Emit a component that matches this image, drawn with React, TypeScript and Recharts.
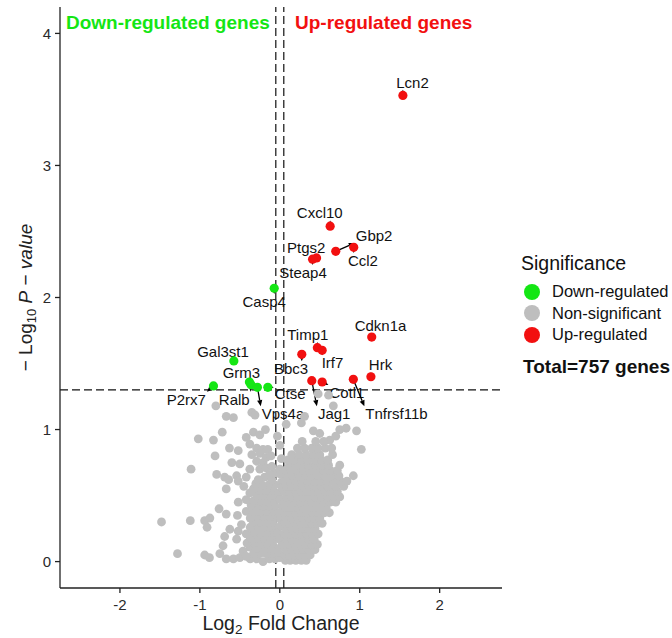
import React from 'react';
import { ScatterChart, Scatter, XAxis, YAxis, ReferenceLine, ReferenceDot, Legend } from 'recharts';

const FONT = '"Liberation Sans", Arial, Helvetica, sans-serif';
const GREEN = '#14e614';
const RED = '#f21010';
const GREY = '#bebebe';

const xTicks = [-2, -1, 0, 1, 2];
const yTicks = [0, 1, 2, 3, 4];
const fcCutoff = 0.05;
const pCutoff = 1.3;
const totalGenes = 757;
const legendOrder = ['Down-regulated', 'Non-significant', 'Up-regulated'];

// log2 fold change / -log10 p for labelled genes
const upGenes = [
  { gene: 'Lcn2', fc: 1.54, p: 3.53 },
  { gene: 'Cxcl10', fc: 0.63, p: 2.54 },
  { gene: 'Gbp2', fc: 0.7, p: 2.35 },
  { gene: 'Ccl2', fc: 0.925, p: 2.38 },
  { gene: 'Ptgs2', fc: 0.46, p: 2.3 },
  { gene: 'Steap4', fc: 0.41, p: 2.29 },
  { gene: 'Cdkn1a', fc: 1.15, p: 1.7 },
  { gene: 'Timp1', fc: 0.47, p: 1.62 },
  { gene: 'Irf7', fc: 0.53, p: 1.6 },
  { gene: 'Bbc3', fc: 0.275, p: 1.57 },
  { gene: 'Hrk', fc: 1.14, p: 1.4 },
  { gene: 'Jag1', fc: 0.4, p: 1.37 },
  { gene: 'Cotl1', fc: 0.53, p: 1.36 },
  { gene: 'Tnfrsf11b', fc: 0.92, p: 1.38 },
];

const downGenes = [
  { gene: 'Casp4', fc: -0.07, p: 2.07 },
  { gene: 'Gal3st1', fc: -0.575, p: 1.52 },
  { gene: 'Grm3', fc: -0.38, p: 1.36 },
  { gene: 'Ralb', fc: -0.36, p: 1.34 },
  { gene: 'P2rx7', fc: -0.83, p: 1.33 },
  { gene: 'Vps4a', fc: -0.28, p: 1.32 },
  { gene: 'Ctse', fc: -0.15, p: 1.32 },
];

// where the repelled labels sit (data units)
const labelSpots: Record<string, [number, number]> = {
  Lcn2: [1.66, 3.63], Cxcl10: [0.5, 2.64], Gbp2: [1.18, 2.47], Ccl2: [1.04, 2.28],
  Ptgs2: [0.33, 2.38], Steap4: [0.29, 2.19], Cdkn1a: [1.26, 1.79], Timp1: [0.35, 1.72],
  Irf7: [0.66, 1.505], Bbc3: [0.14, 1.46], Hrk: [1.26, 1.49], Jag1: [0.68, 1.12],
  Cotl1: [0.84, 1.28], Tnfrsf11b: [1.46, 1.12], Casp4: [-0.195, 1.97], Gal3st1: [-0.71, 1.59],
  Grm3: [-0.48, 1.43], Ralb: [-0.57, 1.23], P2rx7: [-1.17, 1.23], Vps4a: [0.04, 1.12], Ctse: [0.13, 1.27],
};

const headlines = [
  { text: 'Down-regulated genes', x: -1.4, y: 4.08, color: GREEN },
  { text: 'Up-regulated genes', x: 1.3, y: 4.08, color: RED },
];

const nonSigGenes: [number, number][] = [
  [-0.8, 1.18], [-0.67, 1.1], [-0.58, 1.09], [-0.35, 1.13], [-0.31, 1.11],
  [-1.02, 0.93], [-0.83, 0.92], [-0.72, 0.98], [-0.42, 0.94], [-0.33, 0.98], [-0.25, 0.96], [-0.18, 1.0],
  [-0.63, 0.86], [-0.52, 0.84], [-0.375, 0.89], [-0.29, 0.86], [-0.21, 0.85], [-0.15, 0.85],
  [-0.81, 0.8], [-0.6, 0.75], [-0.5, 0.74], [-0.35, 0.81], [-0.25, 0.82], [-0.29, 0.76], [-0.21, 0.75], [-0.17, 0.79], [-0.11, 0.8],
  [-1.11, 0.7], [-0.79, 0.66], [-0.375, 0.7], [-0.25, 0.7], [-0.17, 0.71], [-0.1, 0.72],
  [-0.69, 0.64], [-0.54, 0.65], [-0.42, 0.64], [-0.19, 0.64],
  [-1.48, 0.3], [-1.12, 0.31], [-1.28, 0.06],
  [-0.94, 0.31], [-0.875, 0.33], [-0.91, 0.26], [-0.76, 0.4], [-0.94, 0.05], [-0.88, 0.03], [-0.75, 0.06],
  [-0.71, 0.12], [-0.67, 0.02], [-0.58, 0.02], [-0.5, 0.03], [-0.67, 0.36], [-0.53, 0.35], [-0.625, 0.245],
  [-0.52, 0.23], [-0.48, 0.28], [-0.42, 0.38], [-0.52, 0.45], [-0.42, 0.47], [-0.67, 0.55], [-0.52, 0.61],
  [-0.64, 0.62], [-0.375, 0.52], [-0.69, 0.19], [-0.54, 0.17], [-0.375, 0.11], [-0.46, 0.08], [-0.29, 0.02], [-0.21, 0.0],
  [-0.06, 0.02], [-0.13, 0.02], [-0.37, 0.02],
  [-0.09, 0.06], [-0.17, 0.06], [-0.25, 0.06], [-0.33, 0.06], [-0.42, 0.04],
  [-0.06, 0.1], [-0.13, 0.1], [-0.21, 0.1], [-0.29, 0.1],
  [-0.09, 0.14], [-0.17, 0.14], [-0.25, 0.14], [-0.33, 0.14], [-0.41, 0.14],
  [-0.06, 0.18], [-0.13, 0.18], [-0.21, 0.18], [-0.29, 0.18], [-0.37, 0.18],
  [-0.09, 0.22], [-0.17, 0.22], [-0.25, 0.22], [-0.33, 0.22], [-0.42, 0.21],
  [-0.06, 0.26], [-0.13, 0.26], [-0.21, 0.26], [-0.29, 0.26], [-0.37, 0.26],
  [-0.09, 0.3], [-0.17, 0.3], [-0.25, 0.3], [-0.33, 0.3],
  [-0.06, 0.34], [-0.13, 0.34], [-0.21, 0.34], [-0.29, 0.34], [-0.37, 0.33],
  [-0.09, 0.38], [-0.17, 0.38], [-0.25, 0.38], [-0.33, 0.38],
  [-0.06, 0.42], [-0.13, 0.42], [-0.21, 0.42], [-0.29, 0.42], [-0.36, 0.43],
  [-0.09, 0.46], [-0.17, 0.46], [-0.25, 0.46], [-0.33, 0.46],
  [-0.06, 0.5], [-0.13, 0.5], [-0.21, 0.5], [-0.29, 0.5],
  [-0.09, 0.54], [-0.17, 0.54], [-0.25, 0.54], [-0.33, 0.55],
  [-0.06, 0.58], [-0.14, 0.58], [-0.22, 0.58], [-0.3, 0.59], [-0.45, 0.57],
  [-0.1, 0.62], [-0.27, 0.62], [-0.07, 0.67], [-0.13, 0.66],
  [0.0, 0.03], [0.02, 0.12], [-0.02, 0.22], [0.01, 0.32], [0.03, 0.42], [-0.01, 0.52], [0.02, 0.6],
  [0.0, 0.7], [0.02, 0.78], [-0.02, 0.07], [0.0, 0.17], [0.01, 0.27], [-0.01, 0.37], [0.0, 0.47],
  [0.03, 0.56], [0.01, 0.66], [0.0, 0.88], [-0.03, 0.95],
  [0.48, 1.27], [0.61, 1.26], [0.67, 1.18], [0.31, 1.1], [0.27, 1.05], [0.08, 1.04], [0.42, 0.99],
  [0.5, 0.97], [0.75, 1.0], [0.83, 1.01], [0.96, 0.99], [1.02, 0.85], [0.625, 0.92], [0.7, 0.95],
  [0.07, 0.01], [0.13, 0.01], [0.2, 0.01], [0.27, 0.01], [0.33, 0.01],
  [0.06, 0.05], [0.12, 0.05], [0.18, 0.05], [0.25, 0.05], [0.31, 0.05], [0.38, 0.05],
  [0.08, 0.09], [0.15, 0.09], [0.22, 0.09], [0.29, 0.09], [0.36, 0.09], [0.44, 0.09],
  [0.06, 0.13], [0.12, 0.13], [0.19, 0.13], [0.26, 0.13], [0.33, 0.13], [0.4, 0.13], [0.47, 0.13],
  [0.08, 0.17], [0.15, 0.17], [0.22, 0.17], [0.29, 0.17], [0.36, 0.17], [0.43, 0.17],
  [0.06, 0.21], [0.13, 0.21], [0.2, 0.21], [0.27, 0.21], [0.34, 0.21], [0.41, 0.21], [0.48, 0.21],
  [0.08, 0.25], [0.15, 0.25], [0.22, 0.25], [0.29, 0.25], [0.36, 0.25], [0.44, 0.25],
  [0.06, 0.29], [0.12, 0.29], [0.19, 0.29], [0.26, 0.29], [0.33, 0.29], [0.4, 0.29], [0.47, 0.29], [0.53, 0.29],
  [0.08, 0.33], [0.15, 0.33], [0.22, 0.33], [0.29, 0.33], [0.36, 0.33], [0.43, 0.33], [0.5, 0.33],
  [0.06, 0.37], [0.13, 0.37], [0.2, 0.37], [0.27, 0.37], [0.34, 0.37], [0.41, 0.37], [0.48, 0.37], [0.56, 0.37], [0.62, 0.37],
  [0.08, 0.41], [0.15, 0.41], [0.22, 0.41], [0.29, 0.41], [0.36, 0.41], [0.43, 0.41], [0.51, 0.41], [0.58, 0.41],
  [0.06, 0.45], [0.12, 0.45], [0.19, 0.45], [0.26, 0.45], [0.33, 0.45], [0.4, 0.45], [0.47, 0.45], [0.55, 0.45], [0.63, 0.45], [0.7, 0.45],
  [0.08, 0.49], [0.15, 0.49], [0.22, 0.49], [0.29, 0.49], [0.36, 0.49], [0.44, 0.49], [0.52, 0.49], [0.6, 0.49], [0.68, 0.49], [0.75, 0.49],
  [0.06, 0.53], [0.13, 0.53], [0.2, 0.53], [0.27, 0.53], [0.34, 0.53], [0.41, 0.53], [0.49, 0.53], [0.57, 0.53], [0.64, 0.53], [0.72, 0.53],
  [0.08, 0.57], [0.15, 0.57], [0.22, 0.57], [0.29, 0.57], [0.36, 0.57], [0.44, 0.57], [0.52, 0.57], [0.6, 0.57], [0.7, 0.57], [0.8, 0.57],
  [0.06, 0.61], [0.13, 0.61], [0.2, 0.61], [0.27, 0.61], [0.35, 0.61], [0.43, 0.61], [0.51, 0.61], [0.59, 0.61], [0.67, 0.61], [0.76, 0.61], [0.84, 0.61],
  [0.09, 0.65], [0.16, 0.65], [0.24, 0.65], [0.32, 0.65], [0.4, 0.65], [0.48, 0.65], [0.56, 0.65], [0.65, 0.65], [0.74, 0.65], [0.92, 0.65],
  [0.07, 0.69], [0.14, 0.69], [0.22, 0.69], [0.3, 0.69], [0.38, 0.69], [0.46, 0.69], [0.55, 0.69], [0.63, 0.69], [0.72, 0.69],
  [0.12, 0.73], [0.2, 0.73], [0.28, 0.73], [0.36, 0.73], [0.45, 0.73], [0.53, 0.73], [0.61, 0.73], [0.75, 0.73],
  [0.1, 0.77], [0.18, 0.77], [0.27, 0.77], [0.35, 0.77], [0.44, 0.77], [0.52, 0.77], [0.6, 0.77],
  [0.15, 0.81], [0.24, 0.81], [0.33, 0.81], [0.42, 0.81], [0.5, 0.81], [0.66, 0.81],
  [0.22, 0.86], [0.31, 0.86], [0.4, 0.86], [0.48, 0.86], [0.57, 0.86], [0.65, 0.86],
  [0.28, 0.91], [0.45, 0.91], [0.55, 0.91],
];

const toPoints = (rows: { gene: string; fc: number; p: number }[]) =>
  rows.map((r) => ({ x: r.fc, y: r.p, gene: r.gene }));
const greyData = nonSigGenes.map(([x, y]) => ({ x, y }));
const downData = toPoints(downGenes);
const upData = toPoints(upGenes);

let measureCtx: CanvasRenderingContext2D | null = null;
const textWidth = (s: string, font: string) => {
  if (!measureCtx) measureCtx = document.createElement('canvas').getContext('2d');
  if (!measureCtx) return s.length * 8;
  measureCtx.font = font;
  return measureCtx.measureText(s).width;
};

const dot = (r: number, color: string) => (p: any) =>
  typeof p.cx === 'number' ? <circle cx={p.cx} cy={p.cy} r={r} fill={color} /> : <g />;

// label text + ggrepel-ish arrow from the point to the label box
const GeneTag = (props: any) => {
  const { x1, y1, x2, y2, gene } = props;
  if ([x1, y1, x2, y2].some((v) => typeof v !== 'number' || isNaN(v))) return <g />;
  const w = textWidth(gene, `15px ${FONT}`);
  const hw = w / 2 + 1;
  const hh = 7.5;
  const ex = Math.min(Math.max(x1, x2 - hw), x2 + hw);
  const ey = Math.min(Math.max(y1, y2 - hh), y2 + hh);
  const dx = ex - x1;
  const dy = ey - y1;
  const len = Math.hypot(dx, dy);
  let arrow = null;
  if (len > 3) {
    const ux = dx / len;
    const uy = dy / len;
    const head = Math.min(6, len);
    const start = Math.min(3, Math.max(0, len - head));
    const bx = ex - ux * head;
    const by = ey - uy * head;
    arrow = (
      <g>
        {len - head - start > 0.5 && (
          <line x1={x1 + ux * start} y1={y1 + uy * start} x2={bx} y2={by} stroke="#000" strokeWidth={1.3} />
        )}
        <polygon
          points={`${ex},${ey} ${bx - uy * 2.6},${by + ux * 2.6} ${bx + uy * 2.6},${by - ux * 2.6}`}
          fill="#000"
        />
      </g>
    );
  }
  return (
    <g>
      {arrow}
      <text x={x2} y={y2} textAnchor="middle" dominantBaseline="central" fontSize={15} fontFamily={FONT} fill="#111">
        {gene}
      </text>
    </g>
  );
};

const XTitle = (props: any) => {
  const vb = props.viewBox || { x: 60, width: 442 };
  const cx = vb.x + vb.width / 2;
  return (
    <text x={cx} y={630} textAnchor="middle" fontSize={19.5} fontFamily={FONT} fill="#222">
      <tspan>Log</tspan>
      <tspan fontSize={13.5} dy={4}>2</tspan>
      <tspan dy={-4}> Fold Change</tspan>
    </text>
  );
};

const YTitle = (props: any) => {
  const vb = props.viewBox || { y: 7, height: 581 };
  const cy = vb.y + vb.height / 2;
  const x = 31.5;
  return (
    <text x={x} y={cy} transform={`rotate(-90, ${x}, ${cy})`} textAnchor="middle" fontSize={19} fontFamily={FONT} fill="#222">
      <tspan>− Log</tspan>
      <tspan fontSize={13} dy={4}>10</tspan>
      <tspan dy={-4} fontStyle="italic">{'  P'}</tspan>
      <tspan>{'  −  '}</tspan>
      <tspan fontStyle="italic">value</tspan>
    </text>
  );
};

const SignificanceLegend = (props: any) => {
  const payload = props.payload || [];
  const items = legendOrder.map((n) => payload.find((p: any) => p.value === n)).filter(Boolean);
  return (
    <div style={{ fontFamily: FONT, color: '#111' }}>
      <div style={{ fontSize: 19.5, lineHeight: '22px', paddingLeft: 1, marginBottom: 7 }}>Significance</div>
      {items.map((it: any) => (
        <div key={it.value} style={{ display: 'flex', alignItems: 'center', height: 21.5, fontSize: 16.5 }}>
          <svg width={18} height={18} style={{ marginLeft: 3, marginRight: 11 }}>
            <circle cx={9} cy={9} r={8} fill={it.color} />
          </svg>
          {it.value}
        </div>
      ))}
      <div style={{ fontSize: 19, lineHeight: '22px', fontWeight: 'bold', paddingLeft: 3, marginTop: 10.5 }}>
        Total={totalGenes} genes
      </div>
    </div>
  );
};

const labelled = [...upGenes, ...downGenes];

export default function App() {
  return (
    <div style={{ position: 'absolute', left: 0, top: 0, width: 672, height: 638, background: '#fff', fontFamily: FONT }}>
      <ScatterChart width={672} height={638} margin={{ top: 7, right: 170, bottom: 0, left: 0 }}>
        <XAxis
          type="number"
          dataKey="x"
          domain={[-2.75, 2.78]}
          ticks={xTicks}
          allowDataOverflow
          height={50}
          tickSize={5}
          tickMargin={6}
          tick={{ fontSize: 15, fill: '#2a2a2a', fontFamily: FONT }}
          axisLine={{ stroke: '#222', strokeWidth: 1.3 }}
          tickLine={{ stroke: '#222', strokeWidth: 1.3 }}
          label={{ content: (p: any) => <XTitle {...p} /> }}
        />
        <YAxis
          type="number"
          dataKey="y"
          domain={[-0.2, 4.2]}
          ticks={yTicks}
          allowDataOverflow
          width={60}
          tickSize={5}
          tickMargin={4}
          tick={{ fontSize: 15, fill: '#2a2a2a', fontFamily: FONT }}
          axisLine={{ stroke: '#222', strokeWidth: 1.3 }}
          tickLine={{ stroke: '#222', strokeWidth: 1.3 }}
          label={{ content: (p: any) => <YTitle {...p} /> }}
        />
        <Legend
          layout="vertical"
          align="center"
          verticalAlign="middle"
          content={(p: any) => <SignificanceLegend {...p} />}
          wrapperStyle={{ left: 520, top: 252, width: 152, margin: 0, padding: 0 }}
        />
        <Scatter name="Non-significant" data={greyData} fill={GREY} shape={dot(4.4, GREY)} isAnimationActive={false} />
        <Scatter name="Down-regulated" data={downData} fill={GREEN} shape={dot(4.6, GREEN)} isAnimationActive={false} />
        <Scatter name="Up-regulated" data={upData} fill={RED} shape={dot(4.6, RED)} isAnimationActive={false} />
        <ReferenceLine x={-fcCutoff} stroke="#111" strokeWidth={1.2} strokeDasharray="8 4" />
        <ReferenceLine x={fcCutoff} stroke="#111" strokeWidth={1.2} strokeDasharray="8 4" />
        <ReferenceLine y={pCutoff} stroke="#111" strokeWidth={1.2} strokeDasharray="8 4" />
        {labelled.map((g) => (
          <ReferenceLine
            key={g.gene}
            segment={[{ x: g.fc, y: g.p }, { x: labelSpots[g.gene][0], y: labelSpots[g.gene][1] }]}
            shape={(p: any) => <GeneTag {...p} gene={g.gene} />}
          />
        ))}
        {headlines.map((h) => (
          <ReferenceDot
            key={h.text}
            x={h.x}
            y={h.y}
            r={0}
            shape={(p: any) => (
              <text x={p.cx} y={p.cy} textAnchor="middle" dominantBaseline="central" fontSize={19} fontWeight="bold" fontFamily={FONT} fill={h.color}>
                {h.text}
              </text>
            )}
          />
        ))}
      </ScatterChart>
    </div>
  );
}
